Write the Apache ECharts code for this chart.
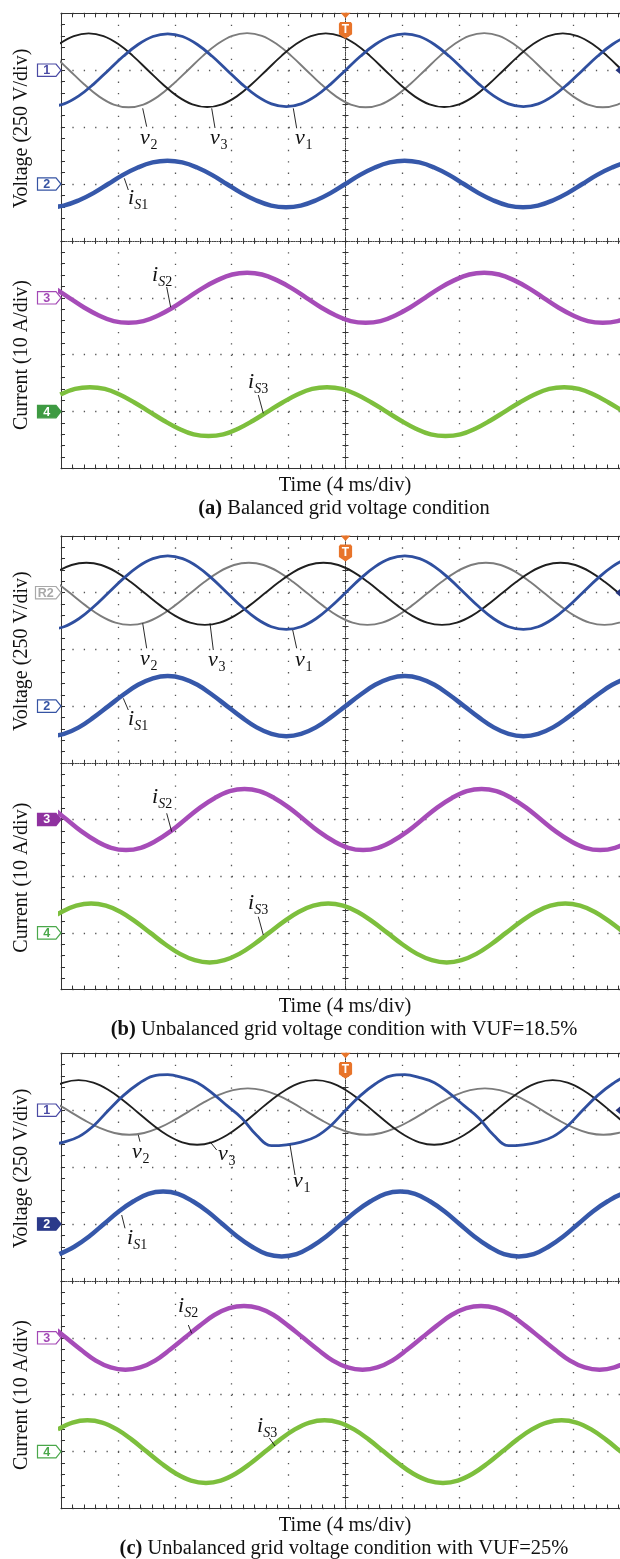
<!DOCTYPE html>
<html>
<head>
<meta charset="utf-8">
<script src="https://cdn.jsdelivr.net/npm/echarts@6.0.0/dist/echarts.min.js"></script>
<style>
html,body{margin:0;padding:0;background:#fff;}
#chart{width:620px;height:1559px;}
</style>
</head>
<body>
<div id="chart"></div>
<script>
// ---------------- data read from the three oscilloscope captures ----------------
// Each trace was read every 1/16 of a 60 Hz cycle (1.0417 ms), starting at t0 (ms, trigger = 0).
const sampleStepMs = 1.0417;
const voltsPerDiv = 250;
const ampsPerDiv = 10;
const channelRows = [3, 1, -1, -3];           // ground markers of channels 1..4 (div from centre)

// (a) balanced grid voltage  (V, A)
const v1A  = {t0:-20.83, v:[-160,-148,-113,-61,0,61,113,148,160,148,113,61,0,-61,-113,-148,-160,-148,-113,-61,0,61,113,148,160,148,113,61,0,-61,-113,-148,-160,-148,-113,-61,0,61,113,148,160]};
const v2A  = {t0:-20.46, v:[62,0,-62,-115,-151,-163,-151,-115,-62,0,62,115,151,163,151,115,62,0,-62,-115,-151,-163,-151,-115,-62,0,62,115,151,163,151,115,62,0,-62,-115,-151,-163,-151,-115]};
const v3A  = {t0:-20.14, v:[115,150,162,150,115,62,0,-62,-115,-150,-162,-150,-115,-62,0,62,115,150,162,150,115,62,0,-62,-115,-150,-162,-150,-115,-62,0,62,115,150,162,150,115,62,0,-62]};
const iS1A = {t0:-20.85, v:[-4.1,-3.8,-2.9,-1.6,0,1.6,2.9,3.8,4.1,3.8,2.9,1.6,0,-1.6,-2.9,-3.8,-4.1,-3.8,-2.9,-1.6,0,1.6,2.9,3.8,4.1,3.8,2.9,1.6,0,-1.6,-2.9,-3.8,-4.1,-3.8,-2.9,-1.6,0,1.6,2.9,3.8,4.1]};
const iS2A = {t0:-20.46, v:[1.7,0,-1.7,-3.1,-4.1,-4.4,-4.1,-3.1,-1.7,0,1.7,3.1,4.1,4.4,4.1,3.1,1.7,0,-1.7,-3.1,-4.1,-4.4,-4.1,-3.1,-1.7,0,1.7,3.1,4.1,4.4,4.1,3.1,1.7,0,-1.7,-3.1,-4.1,-4.4,-4.1,-3.1]};
const iS3A = {t0:-20.05, v:[3.0,4.0,4.3,4.0,3.0,1.6,0,-1.6,-3.0,-4.0,-4.3,-4.0,-3.0,-1.6,0,1.6,3.0,4.0,4.3,4.0,3.0,1.6,0,-1.6,-3.0,-4.0,-4.3,-4.0,-3.0,-1.6,0,1.6,3.0,4.0,4.3,4.0,3.0,1.6,0,-1.6]};

// (b) unbalanced grid voltage, VUF = 18.5 %
const v1B  = {t0:-20.83, v:[-162,-150,-115,-62,0,62,115,150,162,150,115,62,0,-62,-115,-150,-162,-150,-115,-62,0,62,115,150,162,150,115,62,0,-62,-115,-150,-162,-150,-115,-62,0,62,115,150,162]};
const v2B  = {t0:-20.34, v:[47,-5,-57,-102,-132,-142,-132,-102,-57,-5,47,92,122,132,122,92,47,-5,-57,-102,-132,-142,-132,-102,-57,-5,47,92,122,132,122,92,47,-5,-57,-102,-132,-142,-132,-102]};
const v3B  = {t0:-20.30, v:[92,122,132,122,92,47,-5,-57,-102,-132,-142,-132,-102,-57,-5,47,92,122,132,122,92,47,-5,-57,-102,-132,-142,-132,-102,-57,-5,47,92,122,132,122,92,47,-5,-57]};
const iS1B = {t0:-20.83, v:[-5.3,-4.9,-3.75,-2.0,0,2.0,3.75,4.9,5.3,4.9,3.75,2.0,0,-2.0,-3.75,-4.9,-5.3,-4.9,-3.75,-2.0,0,2.0,3.75,4.9,5.3,4.9,3.75,2.0,0,-2.0,-3.75,-4.9,-5.3,-4.9,-3.75,-2.0,0,2.0,3.75,4.9,5.3]};
const iS2B = {t0:-20.64, v:[2.1,0,-2.1,-3.8,-5.0,-5.4,-5.0,-3.8,-2.1,0,2.1,3.8,5.0,5.4,5.0,3.8,2.1,0,-2.1,-3.8,-5.0,-5.4,-5.0,-3.8,-2.1,0,2.1,3.8,5.0,5.4,5.0,3.8,2.1,0,-2.1,-3.8,-5.0,-5.4,-5.0,-3.8,-2.1]};
const iS3B = {t0:-21.01, v:[2.0,3.7,4.8,5.2,4.8,3.7,2.0,0,-2.0,-3.7,-4.8,-5.2,-4.8,-3.7,-2.0,0,2.0,3.7,4.8,5.2,4.8,3.7,2.0,0,-2.0,-3.7,-4.8,-5.2,-4.8,-3.7,-2.0,0,2.0,3.7,4.8,5.2,4.8,3.7,2.0,0,-2.0]};

// (c) unbalanced grid voltage, VUF = 25 %
const v1C  = {t0:-20.83, v:[-152,-140,-116,-68,0,64,115,150,156,143,121,75,20,-35,-110,-156,-152,-140,-116,-68,0,64,115,150,156,143,121,75,20,-35,-110,-156,-152,-140,-116,-68,0,64,115,150,156]};
const v2C  = {t0:-20.41, v:[33,-6,-45,-78,-100,-108,-100,-78,-45,-6,33,66,88,96,88,66,33,-6,-45,-78,-100,-108,-100,-78,-45,-6,33,66,88,96,88,66,33,-6,-45,-78,-100,-108,-100,-78]};
const v3C  = {t0:-20.85, v:[90,121,132,121,90,44,-10,-64,-110,-141,-152,-141,-110,-64,-10,44,90,121,132,121,90,44,-10,-64,-110,-141,-152,-141,-110,-64,-10,44,90,121,132,121,90,44,-10,-64,-110]};
const iS1C = {t0:-20.11, v:[-5.3,-4.0,-2.2,0,2.2,4.0,5.3,5.7,5.3,4.0,2.2,0,-2.2,-4.0,-5.3,-5.7,-5.3,-4.0,-2.2,0,2.2,4.0,5.3,5.7,5.3,4.0,2.2,0,-2.2,-4.0,-5.3,-5.7,-5.3,-4.0,-2.2,0,2.2,4.0,5.3,5.7]};
const iS2C = {t0:-20.68, v:[2.1,0,-2.1,-4.0,-5.2,-5.6,-5.2,-4.0,-2.1,0,2.1,4.0,5.2,5.6,5.2,4.0,2.1,0,-2.1,-4.0,-5.2,-5.6,-5.2,-4.0,-2.1,0,2.1,4.0,5.2,5.6,5.2,4.0,2.1,0,-2.1,-4.0,-5.2,-5.6,-5.2,-4.0,-2.1]};
const iS3C = {t0:-20.23, v:[3.9,5.1,5.5,5.1,3.9,2.1,0,-2.1,-3.9,-5.1,-5.5,-5.1,-3.9,-2.1,0,2.1,3.9,5.1,5.5,5.1,3.9,2.1,0,-2.1,-3.9,-5.1,-5.5,-5.1,-3.9,-2.1,0,2.1,3.9,5.1,5.5,5.1,3.9,2.1,0,-2.1]};

const captionTags  = ['(a)', '(b)', '(c)'];
const captionTexts = [' Balanced grid voltage condition',
                      ' Unbalanced grid voltage condition with VUF=18.5%',
                      ' Unbalanced grid voltage condition with VUF=25%'];
const voltageTitle = 'Voltage (250 V/div)';
const currentTitle = 'Current (10 A/div)';
const timeTitle    = 'Time (4 ms/div)';

// ---------------- styling / layout ----------------
const SERIF = "'Liberation Serif','Times New Roman',serif";
const SANS  = "'Liberation Sans',Arial,sans-serif";
const C = {v1:'#2f4f9f', v2:'#7c7c7c', v3:'#1f1f1f', i1:'#3658aa', i2:'#a64cb8', i3:'#7dbf3d'};

const panels = [
  {top:13.3, h:455.2, v:[v1A,v2A,v3A], i:[iS1A,iS2A,iS3A],
   tags:[{t:'1',c:'#4a4aa4',f:false},{t:'2',c:'#3553a3',f:false},{t:'3',c:'#a348b5',f:false},{t:'4',c:'#3e9a42',f:true}],
   labels:[['v','2',140,146,[146.7,126.7,142.7,108.3]],['v','3',210,146,[215,128,211.7,108.3]],['v','1',295,146,[296.7,128.3,293.3,108.3]],
           ['i','S1',128,206,[128.3,190,124.3,178.3]],['i','S2',152,283,[166.7,287,170.7,307.3]],['i','S3',248,390,[258.3,395,263.3,413.3]]]},
  {top:536, h:453.6, v:[v1B,v2B,v3B], i:[iS1B,iS2B,iS3B],
   tags:[{t:'R2',c:'#a8a8a8',f:false},{t:'2',c:'#3553a3',f:false},{t:'3',c:'#8f319f',f:true},{t:'4',c:'#4aa84a',f:false}],
   labels:[['v','2',140,667,[146.7,648.3,142.7,623.3]],['v','3',208,668,[213.3,650,210,623.3]],['v','1',295,668,[296.7,648.3,292.7,630]],
           ['i','S1',128,727,[128.3,710,123.3,698.3]],['i','S2',152,805,[166.7,813.3,171.7,831.7]],['i','S3',248,911,[258.3,916.7,263.3,935]]]},
  {top:1053.3, h:455.2, v:[v1C,v2C,v3C], i:[iS1C,iS2C,iS3C],
   tags:[{t:'1',c:'#4a4aa4',f:false},{t:'2',c:'#2b3a8a',f:true},{t:'3',c:'#a348b5',f:false},{t:'4',c:'#4aa84a',f:false}],
   labels:[['v','2',132,1160,[140,1141.7,138.3,1135]],['v','3',218,1162,[216.7,1150,210,1141.7]],['v','1',293,1189,[295,1175,290,1145]],
           ['i','S1',127,1246,[125,1228.3,121.7,1215]],['i','S2',178,1314,[188.3,1325,191.7,1333.3]],['i','S3',257,1434,[269.3,1438,275,1446]]]}
];

const LEFT = 61, XDIV = 56.9, WIDTH = XDIV * 10;

const option = {animation:false, backgroundColor:'#fff', grid:[], xAxis:[], yAxis:[], series:[], graphic:{elements:[]}};
const G = option.graphic.elements;

function text(x, y, str, font, fill, align, extra) {
  const el = {type:'text', x:x, y:y, silent:true, z:100,
    style:{text:str, x:0, y:0, font:font, fill:fill, align:align||'left', textAlign:align||'left',
           verticalAlign:'middle', textVerticalAlign:'middle'}};
  return Object.assign(el, extra || {});
}

panels.forEach((P, g) => {
  const YDIV = P.h / 8;
  option.grid.push({left:LEFT, top:P.top, width:WIDTH, height:P.h, containLabel:false, outerBoundsMode:'none', show:false});
  const xb = {gridIndex:g, type:'value', min:-20, max:20, interval:4, axisLabel:{show:false}, splitLine:{show:false}};
  const yb = {gridIndex:g, type:'value', min:-4, max:4, interval:1, axisLabel:{show:false}, splitLine:{show:false}};
  const border = {color:'#333', width:1};
  const tick = (inside, len) => ({show:true, inside:inside, length:len, lineStyle:{color:'#333', width:1}});
  const minor = (len) => ({show:true, splitNumber:5, length:len, lineStyle:{color:'#333', width:1}});
  const centreLine = {color:'#444', width:1, type:[1, 1.4]};
  option.xAxis.push(Object.assign({}, xb, {position:'bottom', axisLine:{show:true,onZero:false,lineStyle:border},
      axisTick:tick(true,4), minorTick:minor(4),
      splitLine:{show:true, lineStyle:{color:'#555', width:1.3, type:[1.3, YDIV/5 - 1.3]}}}));
  option.xAxis.push(Object.assign({}, xb, {position:'top', axisLine:{show:true,onZero:false,lineStyle:border},
      axisTick:tick(true,4), minorTick:minor(4)}));
  option.xAxis.push(Object.assign({}, xb, {position:'bottom', axisLine:{show:true,onZero:true,onZeroAxisIndex:3*g,lineStyle:centreLine},
      axisTick:tick(true,3), minorTick:minor(3)}));
  option.xAxis.push(Object.assign({}, xb, {position:'bottom', axisLine:{show:true,onZero:true,onZeroAxisIndex:3*g,lineStyle:centreLine},
      axisTick:tick(false,3), minorTick:minor(3)}));
  option.yAxis.push(Object.assign({}, yb, {position:'left', axisLine:{show:true,onZero:false,lineStyle:border},
      axisTick:tick(true,4), minorTick:minor(4),
      splitLine:{show:true, lineStyle:{color:'#555', width:1.3, type:[1.3, XDIV/5 - 1.3]}}}));
  option.yAxis.push(Object.assign({}, yb, {position:'left', axisLine:{show:true,onZero:true,onZeroAxisIndex:4*g,lineStyle:centreLine},
      axisTick:tick(true,3), minorTick:minor(3)}));
  option.yAxis.push(Object.assign({}, yb, {position:'left', axisLine:{show:true,onZero:true,onZeroAxisIndex:4*g,lineStyle:centreLine},
      axisTick:tick(false,3), minorTick:minor(3)}));

  const traces = [
    {d:P.v[1], ch:0, s:voltsPerDiv, c:C.v2, w:1.9},
    {d:P.v[2], ch:0, s:voltsPerDiv, c:C.v3, w:1.9},
    {d:P.v[0], ch:0, s:voltsPerDiv, c:C.v1, w:2.8},
    {d:P.i[0], ch:1, s:ampsPerDiv,  c:C.i1, w:4.5},
    {d:P.i[1], ch:2, s:ampsPerDiv,  c:C.i2, w:4.5},
    {d:P.i[2], ch:3, s:ampsPerDiv,  c:C.i3, w:4.5}
  ];
  traces.forEach((tr, k) => {
    option.series.push({type:'line', xAxisIndex:4*g, yAxisIndex:3*g, smooth:0.4, symbol:'none', silent:true, z:10+k,
      lineStyle:{color:tr.c, width:tr.w},
      data: tr.d.v.map((val, n) => [tr.d.t0 + n * sampleStepMs, channelRows[tr.ch] + val / tr.s])});
  });

  // channel tags
  P.tags.forEach((tg, k) => {
    const y = P.top + (4 - channelRows[k]) * YDIV;
    const x0 = tg.t.length > 1 ? 35.5 : 37.5;
    G.push({type:'polygon', silent:true, z:90,
      shape:{points:[[x0,y-6.2],[56,y-6.2],[61,y],[56,y+6.2],[x0,y+6.2]]},
      style:{fill: tg.f ? tg.c : '#fff', stroke: tg.c, lineWidth:1.2}});
    G.push(text((x0+56)/2, y+0.5, tg.t, 'bold 12.5px ' + SANS, tg.f ? '#fff' : tg.c, 'center'));
  });
  // trigger marker
  const T = P.top, tx = 345.5;
  G.push({type:'polygon', silent:true, z:95, shape:{points:[[tx-5,T-0.5],[tx+5,T-0.5],[tx,T+5]]}, style:{fill:'#e8742a'}});
  G.push({type:'polygon', silent:true, z:95,
    shape:{points:[[tx-6.6,T+10.5],[tx-5.4,T+8.6],[tx+5.4,T+8.6],[tx+6.6,T+10.5],[tx+6.6,T+21],[tx,T+25.5],[tx-6.6,T+21]]},
    style:{fill:'#e8742a'}});
  G.push(text(tx, T+16.3, 'T', 'bold 12px ' + SANS, '#fff', 'center', {z:96}));
  // right-edge level marker (partly cut off)
  const y1 = P.top + YDIV;
  G.push({type:'polygon', silent:true, z:95, shape:{points:[[615.5,y1],[621,y1-4.5],[621,y1+4.5]]}, style:{fill:'#27367f'}});

  // axis titles
  G.push(text(21.7, P.top + 115.2, voltageTitle, '20px ' + SERIF, '#111', 'center', {rotation:Math.PI/2}));
  G.push(text(21.7, P.top + 341.7, currentTitle, '20px ' + SERIF, '#111', 'center', {rotation:Math.PI/2}));
  const bottom = P.top + P.h;
  G.push(text(345, bottom + 16.8, timeTitle, '20.5px ' + SERIF, '#111', 'center'));
  G.push({type:'text', x:344, y:bottom + 40.5, silent:true, z:100,
    style:{text:'{b|' + captionTags[g] + '}{n|' + captionTexts[g] + '}', x:0, y:0,
      align:'center', textAlign:'center', verticalAlign:'middle', textVerticalAlign:'middle',
      rich:{b:{fontFamily:SERIF, fontSize:20.5, fontWeight:'bold', fill:'#111'},
            n:{fontFamily:SERIF, fontSize:20.5, fill:'#111'}}}});

  // trace labels with pointer lines
  P.labels.forEach((L) => {
    const [main, sub, x, base, ln] = L;
    G.push({type:'line', silent:true, z:98, shape:{x1:ln[0], y1:ln[1], x2:ln[2], y2:ln[3]}, style:{stroke:'#111', lineWidth:0.9}});
    G.push(text(x, base - 7.4, main, 'italic 22px ' + SERIF, '#111', 'left'));
    const sx = x + (main === 'v' ? 10.5 : 6.3);
    if (sub.length === 1) {
      G.push(text(sx, base - 0.5, sub, '14px ' + SERIF, '#111', 'left'));
    } else {
      G.push({type:'text', x:sx, y:base - 0.5, silent:true, z:100,
        style:{text:'{s|' + sub[0] + '}{n|' + sub.slice(1) + '}', x:0, y:0, align:'left', textAlign:'left',
          verticalAlign:'middle', textVerticalAlign:'middle',
          rich:{s:{fontFamily:SERIF, fontSize:14, fontStyle:'italic', fill:'#111'},
                n:{fontFamily:SERIF, fontSize:14, fill:'#111'}}}});
    }
  });
});

const chart = echarts.init(document.getElementById('chart'), null, {renderer:'canvas'});
chart.setOption(option);
</script>
</body>
</html>
